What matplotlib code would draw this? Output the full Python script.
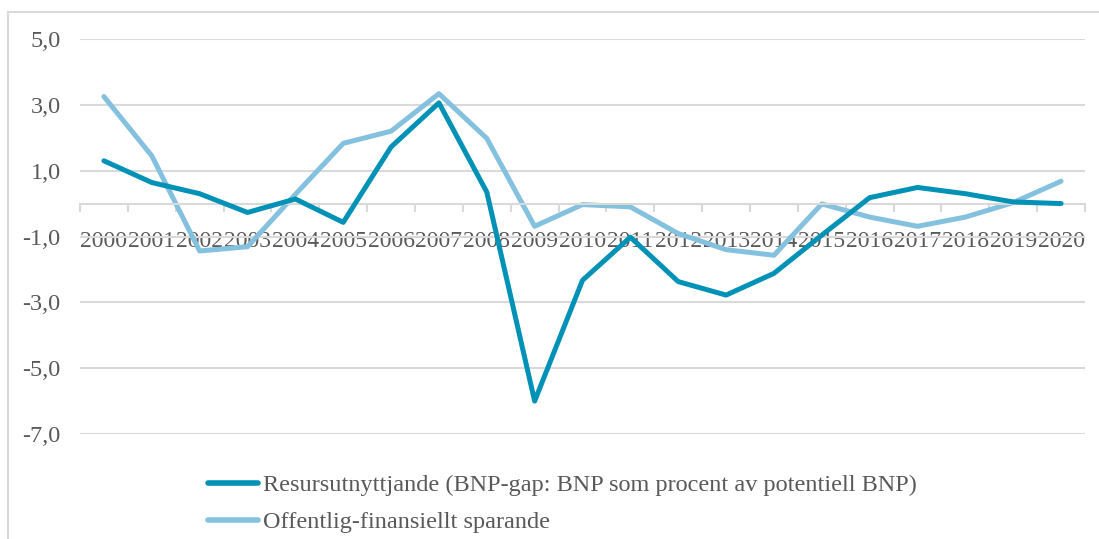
import matplotlib.pyplot as plt
from matplotlib.lines import Line2D
from matplotlib.ticker import FixedLocator, FuncFormatter
import numpy as np

years = [str(y) for y in range(2000, 2021)]
# BNP-gap (resursutnyttjande), procent av potentiell BNP
gap = [1.3, 0.64, 0.3, -0.27, 0.14, -0.57, 1.72, 3.06, 0.35, -6.0, -2.33,
       -1.02, -2.37, -2.78, -2.12, -0.96, 0.18, 0.49, 0.3, 0.05, 0.0]
# offentlig-finansiellt sparande
saving = [3.25, 1.45, -1.44, -1.31, 0.28, 1.83, 2.2, 3.34, 1.98, -0.69, -0.03,
          -0.1, -0.91, -1.4, -1.57, -0.01, -0.41, -0.69, -0.41, 0.03, 0.68]
labels = ['Resursutnyttjande (BNP-gap: BNP som procent av potentiell BNP)',
          'Offentlig-finansiellt sparande']

dark = '#0092b6'
light = '#84c1de'
grey_txt = '#595959'
grid_col = '#d9d9d9'

plt.rcParams['font.family'] = ['Liberation Serif', 'DejaVu Serif']

fig = plt.figure(figsize=(10.99, 5.39), dpi=100)
ax = fig.add_axes([80 / 1099, 1 - 434 / 539, 1005 / 1099, 395 / 539])

x = np.arange(len(years))
ax.plot(x, gap, color=dark, lw=3.6, solid_capstyle='round', zorder=3)
ax.plot(x, saving, color=light, lw=3.6, solid_capstyle='round', zorder=2)

ax.set_xlim(-0.5, len(years) - 0.5)
ax.set_ylim(-7, 5)
ax.set_yticks([5, 3, 1, -1, -3, -5, -7])
ax.yaxis.set_major_formatter(FuncFormatter(lambda v, p: f'{v:.1f}'.replace('.', ',')))
ax.grid(axis='y', color=grid_col, lw=1.5)
ax.set_axisbelow(True)
for s in ['top', 'right', 'left']:
    ax.spines[s].set_visible(False)
ax.spines['bottom'].set_position(('data', 0))
ax.spines['bottom'].set_color(grid_col)
ax.spines['bottom'].set_linewidth(1.5)

ax.set_xticks(x)
ax.set_xticklabels(years)
ax.xaxis.set_minor_locator(FixedLocator(np.arange(-0.5, len(years), 1)))
ax.tick_params(axis='x', which='major', length=0, pad=20, labelsize=17, labelcolor=grey_txt)
ax.tick_params(axis='x', which='minor', length=6, width=1.5, color=grid_col)
ax.tick_params(axis='y', length=0, pad=14, labelsize=17.5, labelcolor=grey_txt)

handles = [Line2D([], [], color=dark, lw=4, solid_capstyle='round'),
           Line2D([], [], color=light, lw=4, solid_capstyle='round')]
fig.legend(handles, labels, loc='upper left', bbox_to_anchor=(208 / 1099, 1 - 474 / 539),
           frameon=False, fontsize=17.5, labelcolor=grey_txt, handlelength=2.05,
           handletextpad=0.2, labelspacing=0.62, borderaxespad=0, borderpad=0)

# chart area frame (only top and left edges show)
fig.add_artist(Line2D([8 / 1099, 1], [1 - 12 / 539, 1 - 12 / 539], color=grid_col, lw=1.5,
                      transform=fig.transFigure))
fig.add_artist(Line2D([8 / 1099, 8 / 1099], [0, 1 - 12 / 539], color=grid_col, lw=1.5,
                      transform=fig.transFigure))

fig.savefig('out.png', dpi=100)
